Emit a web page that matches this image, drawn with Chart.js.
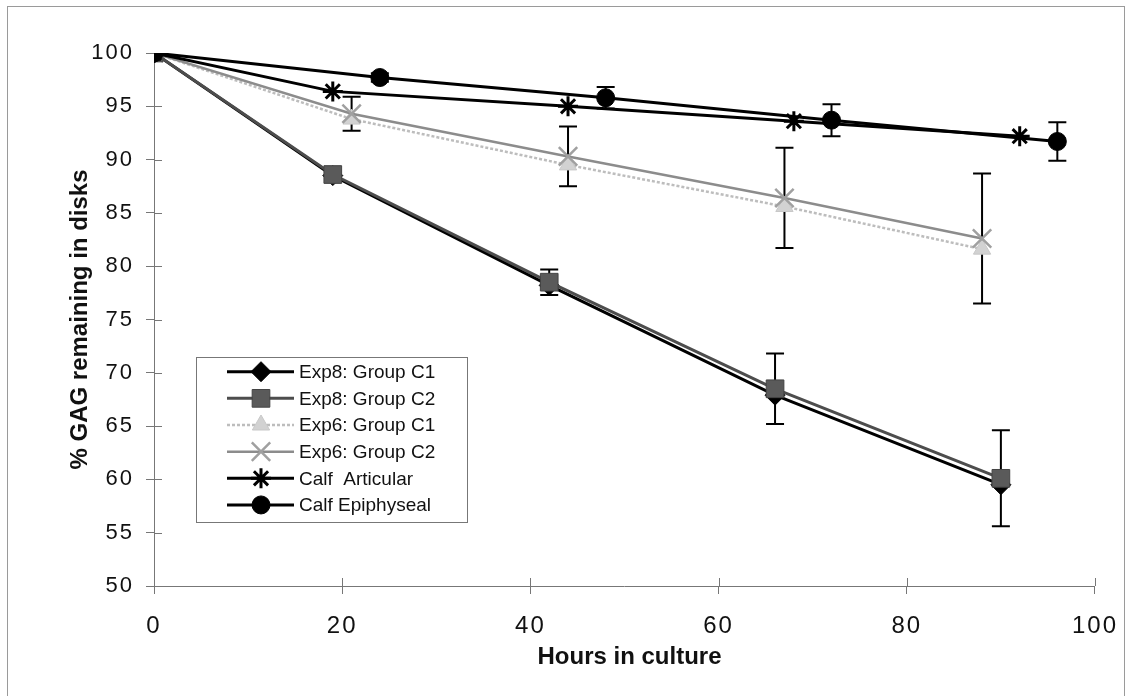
<!DOCTYPE html>
<html>
<head>
<meta charset="utf-8">
<script src="https://cdn.jsdelivr.net/npm/chart.js@4/dist/chart.umd.min.js"></script>
<style>
  html, body { margin: 0; padding: 0; background: #fff; }
  #wrap { position: relative; width: 1133px; height: 696px; overflow: hidden; }
  #frame { position: absolute; left: 7px; top: 6px; width: 1118px; height: 720px;
           border: 1px solid #9a9a9a; box-sizing: border-box; pointer-events: none; }
  canvas { position: absolute; left: 0; top: 0; }
</style>
</head>
<body>
<div id="wrap">
  <canvas id="gag" width="1133" height="696"></canvas>
  <div id="frame"></div>
</div>
<script>
// hours in culture and % GAG remaining for each group
const hoursExp8 = [0, 19, 42, 66, 90];
const exp8C1 = [100, 88.5, 78.2, 67.9, 59.5];
const exp8C2 = [100, 88.6, 78.5, 68.5, 60.1];
const exp8C2Err = [0, 0, 1.2, 3.3, 4.5];

const hoursExp6 = [0, 21, 44, 67, 88];
const exp6C1 = [100, 93.8, 89.5, 85.6, 81.6];
const exp6C2 = [100, 94.3, 90.3, 86.4, 82.6];
const exp6C2Err = [0, 1.6, 2.8, 4.7, 6.1];

const hoursArticular = [0, 19, 44, 68, 92];
const articular = [100, 96.4, 95.0, 93.6, 92.2];

const hoursEpiphyseal = [0, 24, 48, 72, 96];
const epiphyseal = [100, 97.7, 95.8, 93.7, 91.7];
const epiphysealErr = [0, 0.4, 1.0, 1.5, 1.8];

const seriesLabels = ['Exp8: Group C1', 'Exp8: Group C2', 'Exp6: Group C1',
                      'Exp6: Group C2', 'Calf  Articular', 'Calf Epiphyseal'];
const xTitle = 'Hours in culture';
const yTitle = '% GAG remaining in disks';

const FONT = '"Liberation Sans", Arial, Helvetica, sans-serif';

function pts(xs, ys) {
  return xs.map((h, i) => ({ x: h, y: ys[i] }));
}

const datasets = [
  { label: seriesLabels[0], data: pts(hoursExp8, exp8C1), order: 2,
    borderColor: '#000', borderWidth: 3,
    pointStyle: 'rectRot', pointRadius: 10, pointBackgroundColor: '#000',
    pointBorderColor: '#000', pointBorderWidth: 1 },
  { label: seriesLabels[1], data: pts(hoursExp8, exp8C2), order: 1, errors: exp8C2Err,
    borderColor: '#4d4d4d', borderWidth: 3,
    pointStyle: 'rect', pointRadius: 12.5, pointBackgroundColor: '#5a5a5a',
    pointBorderColor: '#444', pointBorderWidth: 1 },
  { label: seriesLabels[2], data: pts(hoursExp6, exp6C1), order: 2,
    borderColor: '#bdbdbd', borderWidth: 2.5, borderDash: [3, 2],
    pointStyle: 'triangle', pointRadius: 10, pointBackgroundColor: '#d2d2d2',
    pointBorderColor: '#c8c8c8', pointBorderWidth: 1 },
  { label: seriesLabels[3], data: pts(hoursExp6, exp6C2), order: 1, errors: exp6C2Err,
    borderColor: '#8c8c8c', borderWidth: 2.5,
    pointStyle: 'crossRot', pointRadius: 13, pointBackgroundColor: '#999',
    pointBorderColor: '#a0a0a0', pointBorderWidth: 2.5 },
  { label: seriesLabels[4], data: pts(hoursArticular, articular), order: 0,
    borderColor: '#000', borderWidth: 3,
    pointStyle: 'star', pointRadius: 10, pointBackgroundColor: '#000',
    pointBorderColor: '#000', pointBorderWidth: 3 },
  { label: seriesLabels[5], data: pts(hoursEpiphyseal, epiphyseal), order: 0, errors: epiphysealErr,
    borderColor: '#000', borderWidth: 3,
    pointStyle: 'circle', pointRadius: 9, pointBackgroundColor: '#000',
    pointBorderColor: '#000', pointBorderWidth: 1 }
];

// wider spacing for the numeric tick labels only
const tickSpacing = {
  id: 'tickSpacing',
  beforeDraw(chart) { chart.ctx.letterSpacing = '2px'; },
  beforeDatasetsDraw(chart) { chart.ctx.letterSpacing = '0px'; }
};

// tick marks that cross the axes, plus the error bars
const crossTicksAndErrors = {
  id: 'crossTicksAndErrors',
  beforeDatasetsDraw(chart) {
    const { ctx, chartArea: a, scales: { x, y } } = chart;
    ctx.save();
    ctx.strokeStyle = '#777';
    ctx.lineWidth = 1;
    ctx.beginPath();
    x.ticks.forEach(t => {
      const px = Math.round(x.getPixelForValue(t.value)) + 0.5;
      ctx.moveTo(px, a.bottom);
      ctx.lineTo(px, a.bottom - 8);
    });
    y.ticks.forEach(t => {
      const py = Math.round(y.getPixelForValue(t.value)) + 0.5;
      ctx.moveTo(a.left, py);
      ctx.lineTo(a.left + 8, py);
    });
    ctx.stroke();

    ctx.strokeStyle = '#000';
    ctx.lineWidth = 2;
    chart.data.datasets.forEach(ds => {
      if (!ds.errors) return;
      ds.data.forEach((p, i) => {
        const e = ds.errors[i];
        if (!e) return;
        const px = x.getPixelForValue(p.x);
        const top = y.getPixelForValue(p.y + e);
        const bot = y.getPixelForValue(p.y - e);
        ctx.beginPath();
        ctx.moveTo(px, top); ctx.lineTo(px, bot);
        ctx.moveTo(px - 9, top); ctx.lineTo(px + 9, top);
        ctx.moveTo(px - 9, bot); ctx.lineTo(px + 9, bot);
        ctx.stroke();
      });
    });
    ctx.restore();
  }
};

// boxed legend inside the plot and the two axis titles
const legendAndTitles = {
  id: 'legendAndTitles',
  afterDraw(chart) {
    const ctx = chart.ctx;
    const a = chart.chartArea;
    ctx.save();
    ctx.letterSpacing = '0px';

    const box = { left: 196.5, top: 357.5, right: 467.5, bottom: 522.5 };
    ctx.strokeStyle = '#777';
    ctx.lineWidth = 1;
    ctx.strokeRect(box.left, box.top, box.right - box.left, box.bottom - box.top);

    chart.data.datasets.forEach((ds, i) => {
      const cy = 371.7 + i * 26.65;
      ctx.strokeStyle = ds.borderColor;
      ctx.lineWidth = ds.borderWidth;
      ctx.setLineDash(ds.borderDash || []);
      ctx.beginPath();
      ctx.moveTo(227, cy);
      ctx.lineTo(294, cy);
      ctx.stroke();
      ctx.setLineDash([]);
      ctx.fillStyle = ds.pointBackgroundColor;
      ctx.strokeStyle = ds.pointBorderColor;
      ctx.lineWidth = ds.pointBorderWidth;
      Chart.helpers.drawPoint(ctx, {
        pointStyle: ds.pointStyle, radius: ds.pointRadius,
        rotation: 0, borderWidth: ds.pointBorderWidth
      }, 261, cy);
      ctx.fillStyle = '#111';
      ctx.font = '19px ' + FONT;
      ctx.textAlign = 'left';
      ctx.textBaseline = 'middle';
      ctx.fillText(ds.label, 299, cy + 1);
    });

    ctx.fillStyle = '#111';
    ctx.font = 'bold 24px ' + FONT;
    ctx.textAlign = 'center';
    ctx.textBaseline = 'middle';
    ctx.fillText(xTitle, (a.left + a.right) / 2 + 5, 657);

    ctx.translate(80, (a.top + a.bottom) / 2);
    ctx.rotate(-Math.PI / 2);
    ctx.fillText(yTitle, 0, 0);
    ctx.restore();
  }
};

new Chart(document.getElementById('gag'), {
  type: 'line',
  data: { datasets },
  plugins: [tickSpacing, crossTicksAndErrors, legendAndTitles],
  options: {
    responsive: false,
    animation: false,
    devicePixelRatio: 1,
    events: [],
    layout: { padding: { top: 53, right: 34, left: 0, bottom: 0 } },
    plugins: { legend: { display: false }, tooltip: { enabled: false } },
    elements: { line: { tension: 0 } },
    scales: {
      x: {
        type: 'linear', min: 0, max: 100,
        ticks: { stepSize: 20, color: '#111', padding: 18,
                 font: { family: FONT, size: 24 } },
        grid: { drawOnChartArea: false, tickLength: 8, color: '#777' },
        border: { color: '#777', width: 1 },
        afterFit(s) { s.height = 110; }
      },
      y: {
        min: 50, max: 100,
        ticks: { stepSize: 5, color: '#111', padding: 12,
                 font: { family: FONT, size: 22 } },
        grid: { drawOnChartArea: false, tickLength: 8, color: '#777' },
        border: { color: '#777', width: 1 },
        afterFit(s) { s.width = 154; }
      }
    }
  }
});
</script>
</body>
</html>
